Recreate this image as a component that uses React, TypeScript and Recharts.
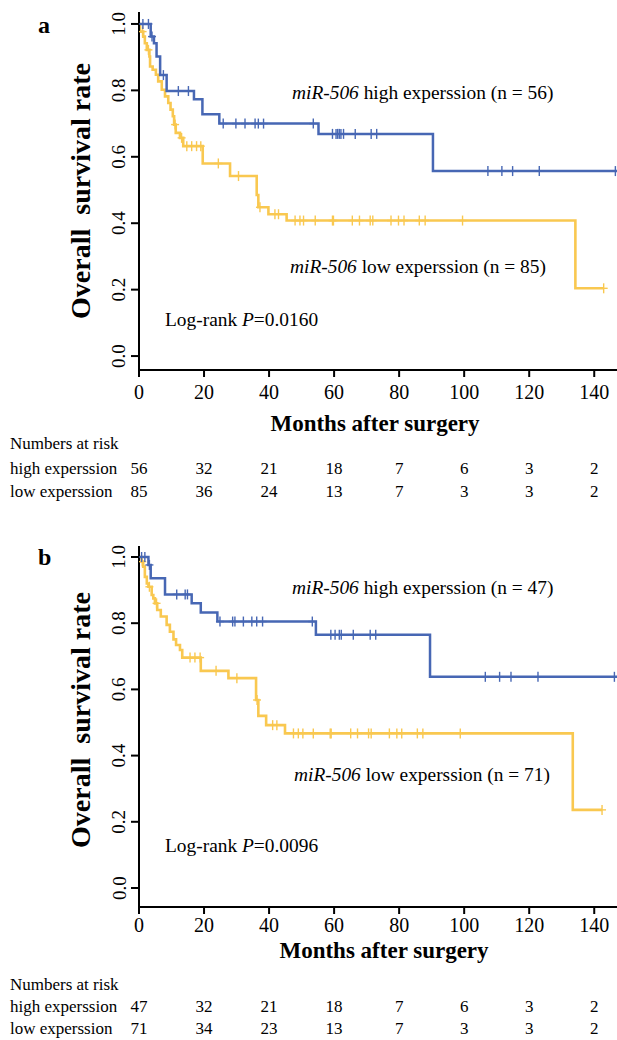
import React from 'react';
import { ComposedChart, Line, Scatter, XAxis, YAxis } from 'recharts';

const BLUE = '#4767b4';
const ORANGE = '#f9c850';
const FONT = '"Liberation Serif", "DejaVu Serif", serif';

const monthTicks = [0, 20, 40, 60, 80, 100, 120, 140];
const rateTicks = [0, 0.2, 0.4, 0.6, 0.8, 1.0];

// panel a
const highA = [
  { t: 0, s: 1.0 }, { t: 3.6, s: 0.962 }, { t: 4.6, s: 0.942 }, { t: 5.4, s: 0.902 },
  { t: 6.5, s: 0.846 }, { t: 8.5, s: 0.798 }, { t: 16.9, s: 0.773 }, { t: 19.5, s: 0.728 },
  { t: 24.7, s: 0.7 }, { t: 55.2, s: 0.669 }, { t: 90.4, s: 0.557 }, { t: 147, s: 0.557 },
];
const highACensor = [1.2, 2.9, 4.0, 7.5, 12.1, 15.2, 25.9, 29.8, 32.6, 35.7, 36.7, 38.3, 53.6,
  59.5, 60.6, 61.1, 61.6, 62.1, 62.9, 66.5, 71.4, 73.1, 107.3, 111.6, 114.9, 123.1, 146.5];

const lowA = [
  { t: 0, s: 1.0 }, { t: 0.3, s: 0.977 }, { t: 1.3, s: 0.962 }, { t: 1.8, s: 0.942 },
  { t: 2.4, s: 0.922 }, { t: 3.2, s: 0.902 }, { t: 3.4, s: 0.872 }, { t: 4.2, s: 0.862 },
  { t: 5.2, s: 0.847 }, { t: 5.9, s: 0.827 }, { t: 7.0, s: 0.802 }, { t: 8.0, s: 0.782 },
  { t: 9.0, s: 0.762 }, { t: 9.7, s: 0.742 }, { t: 10.4, s: 0.722 }, { t: 10.8, s: 0.697 },
  { t: 11.3, s: 0.672 }, { t: 12.6, s: 0.657 }, { t: 13.6, s: 0.632 }, { t: 19.6, s: 0.58 },
  { t: 28, s: 0.542 }, { t: 36.2, s: 0.485 }, { t: 36.7, s: 0.448 }, { t: 39.8, s: 0.427 },
  { t: 45.4, s: 0.408 }, { t: 134.2, s: 0.204 }, { t: 142.9, s: 0.204 },
];
const lowACensor = [1.1, 2.9, 11.1, 13.1, 14.7, 16.2, 17.7, 19.0, 24.4, 30.6, 37.2, 41.8, 42.9,
  48, 49.5, 50.6, 54.2, 59.5, 59.8, 65.6, 67.8, 71.1, 71.9, 77.5, 79.8, 81.5, 86.2, 88, 99.5, 142.9];

const riskHighA = [56, 32, 21, 18, 7, 6, 3, 2];
const riskLowA = [85, 36, 24, 13, 7, 3, 3, 2];

// panel b
const highB = [
  { t: 0, s: 1.0 }, { t: 2.9, s: 0.976 }, { t: 3.6, s: 0.936 }, { t: 8, s: 0.887 },
  { t: 16.2, s: 0.86 }, { t: 19, s: 0.832 }, { t: 24.1, s: 0.805 }, { t: 54.4, s: 0.765 },
  { t: 89.5, s: 0.638 }, { t: 147, s: 0.638 },
];
const highBCensor = [0.8, 1.8, 3.2, 11.6, 14.2, 14.9, 24.9, 28.8, 29.5, 32.1, 34.7, 36.2, 38, 53.3,
  59, 60.3, 61.6, 62.2, 65.9, 71.1, 72.8, 106.5, 110.9, 114.4, 122.7, 146.2];

const lowB = [
  { t: 0, s: 1.0 }, { t: 0.8, s: 0.986 }, { t: 1.3, s: 0.971 }, { t: 1.8, s: 0.94 },
  { t: 2.4, s: 0.92 }, { t: 2.9, s: 0.91 }, { t: 3.9, s: 0.885 }, { t: 4.4, s: 0.875 },
  { t: 4.9, s: 0.86 }, { t: 5.6, s: 0.84 }, { t: 6.7, s: 0.82 }, { t: 8.5, s: 0.795 },
  { t: 9.5, s: 0.774 }, { t: 10.6, s: 0.751 }, { t: 11.4, s: 0.734 }, { t: 12.6, s: 0.719 },
  { t: 13.3, s: 0.696 }, { t: 19, s: 0.656 }, { t: 27.5, s: 0.634 }, { t: 36, s: 0.568 },
  { t: 36.7, s: 0.52 }, { t: 39.1, s: 0.492 }, { t: 44.9, s: 0.467 }, { t: 133.4, s: 0.236 },
  { t: 142.4, s: 0.236 },
];
const lowBCensor = [1.0, 3.2, 5.4, 15.7, 17.2, 18.8, 23.7, 30.1, 36.3, 41.1, 42.4, 47.5, 49, 50.4, 53.6,
  58.8, 59.1, 65.1, 67.2, 70.6, 71.4, 77, 79.3, 80.8, 85.6, 87.3, 98.8, 142.4];

const riskHighB = [47, 32, 21, 18, 7, 6, 3, 2];
const riskLowB = [71, 34, 23, 13, 7, 3, 3, 2];

// survival at time t
const at = (curve: { t: number; s: number }[], times: number[]) =>
  times.map((t) => {
    let s = curve[0].s;
    for (const p of curve) if (p.t <= t) s = p.s;
    return { t, s };
  });

const Cross = (color: string) => (props: any) => {
  const { cx, cy } = props;
  return (
    <g stroke={color} strokeWidth={1.4}>
      <line x1={cx} y1={cy - 5} x2={cx} y2={cy + 5} />
      <line x1={cx - 4} y1={cy} x2={cx + 4} y2={cy} />
    </g>
  );
};

function YTick(props: any) {
  const { x, y, payload } = props;
  const cx = x - 12;
  return (
    <text x={cx} y={y} transform={`rotate(-90 ${cx} ${y})`} textAnchor="middle"
      dominantBaseline="central" fontSize={19} fontFamily={FONT} fill="#000">
      {payload.value.toFixed(1)}
    </text>
  );
}

const makeXTick = (high: number[], low: number[], dy: number[]) => (props: any) => {
  const { x, y, payload, index } = props;
  return (
    <g fontFamily={FONT} fill="#000" textAnchor="middle">
      <text x={x} y={y + dy[0]} fontSize={20} dominantBaseline="central">{payload.value}</text>
      <text x={x} y={y + dy[1]} fontSize={17} dominantBaseline="central">{high[index]}</text>
      <text x={x} y={y + dy[2]} fontSize={17} dominantBaseline="central">{low[index]}</text>
    </g>
  );
};

type PanelProps = {
  top: number;
  height: number;
  marginTop: number;
  xAxisHeight: number;
  domain: [number, number];
  high: { t: number; s: number }[];
  low: { t: number; s: number }[];
  highCensor: number[];
  lowCensor: number[];
  riskHigh: number[];
  riskLow: number[];
  dy: number[];
};

function Panel(p: PanelProps) {
  return (
    <div style={{ position: 'absolute', left: 0, top: p.top }}>
      <ComposedChart width={617} height={p.height}
        margin={{ top: p.marginTop, right: 0, left: 0, bottom: 0 }}>
        <XAxis type="number" dataKey="t" domain={[0, 147]} ticks={monthTicks}
          allowDataOverflow height={p.xAxisHeight} tickSize={7} tickMargin={0}
          axisLine={{ stroke: '#000', strokeWidth: 2 }} tickLine={{ stroke: '#000', strokeWidth: 2 }}
          tick={makeXTick(p.riskHigh, p.riskLow, p.dy)} interval={0} />
        <YAxis type="number" domain={p.domain} ticks={rateTicks} allowDataOverflow width={139}
          tickSize={8} tickMargin={0}
          axisLine={{ stroke: '#000', strokeWidth: 2 }} tickLine={{ stroke: '#000', strokeWidth: 2 }}
          tick={<YTick />} interval={0} />
        <Line data={p.low} dataKey="s" type="stepAfter" stroke={ORANGE} strokeWidth={2.6}
          dot={false} isAnimationActive={false} />
        <Line data={p.high} dataKey="s" type="stepAfter" stroke={BLUE} strokeWidth={2.5}
          dot={false} isAnimationActive={false} />
        <Scatter data={at(p.low, p.lowCensor)} dataKey="s" shape={Cross(ORANGE)} isAnimationActive={false} />
        <Scatter data={at(p.high, p.highCensor)} dataKey="s" shape={Cross(BLUE)} isAnimationActive={false} />
      </ComposedChart>
    </div>
  );
}

const txt = (left: number, top: number, size: number, content: React.ReactNode, extra: React.CSSProperties = {}) => (
  <div style={{ position: 'absolute', left, top, fontSize: size, lineHeight: 1, whiteSpace: 'pre', ...extra }}>
    {content}
  </div>
);

const rotTitle = (cx: number, cy: number) => (
  <div style={{
    position: 'absolute', left: cx, top: cy, fontSize: 28, fontWeight: 'bold', lineHeight: 1,
    whiteSpace: 'pre', transform: 'translate(-50%, -50%) rotate(-90deg)',
  }}>
    {'Overall  survival rate'}
  </div>
);

const centered = (cx: number, cy: number, size: number, content: string, bold = false) => (
  <div style={{
    position: 'absolute', left: cx, top: cy, fontSize: size, fontWeight: bold ? 'bold' : 'normal',
    lineHeight: 1, whiteSpace: 'pre', transform: 'translate(-50%, -50%)',
  }}>
    {content}
  </div>
);

export default function App() {
  return (
    <div style={{ position: 'absolute', left: 0, top: 0, width: 617, height: 1040, background: '#fff', fontFamily: FONT, color: '#000', overflow: 'hidden' }}>
      <Panel top={0} height={500} marginTop={12} xAxisHeight={130} domain={[-0.042, 1.036]}
        high={highA} low={lowA} highCensor={highACensor} lowCensor={lowACensor}
        riskHigh={riskHighA} riskLow={riskLowA} dy={[15, 91, 114]} />
      <Panel top={530} height={510} marginTop={16} xAxisHeight={133} domain={[-0.0574, 1.0332]}
        high={highB} low={lowB} highCensor={highBCensor} lowCensor={lowBCensor}
        riskHigh={riskHighB} riskLow={riskLowB} dy={[11, 92, 114]} />

      {txt(38, 13, 24, 'a', { fontWeight: 'bold' })}
      {txt(38, 545, 24, 'b', { fontWeight: 'bold' })}
      {rotTitle(81, 191)}
      {rotTitle(81, 720)}

      {centered(375, 423, 23, 'Months after surgery', true)}
      {centered(384, 950, 23, 'Months after surgery', true)}

      {txt(10, 435, 17, 'Numbers at risk')}
      {txt(10, 460, 17, 'high experssion')}
      {txt(10, 483, 17, 'low experssion')}
      {txt(10, 976, 17, 'Numbers at risk')}
      {txt(10, 998, 17, 'high experssion')}
      {txt(10, 1020, 17, 'low experssion')}

      {txt(292, 83, 19.4, <><i>miR-506</i> high experssion (n = 56)</>)}
      {txt(290, 257, 19.4, <><i>miR-506</i> low experssion (n = 85)</>)}
      {txt(165, 310, 19.4, <>Log-rank <i>P</i>=0.0160</>)}
      {txt(292, 578, 19.4, <><i>miR-506</i> high experssion (n = 47)</>)}
      {txt(294, 765, 19.4, <><i>miR-506</i> low experssion (n = 71)</>)}
      {txt(165, 836, 19.4, <>Log-rank <i>P</i>=0.0096</>)}
    </div>
  );
}
